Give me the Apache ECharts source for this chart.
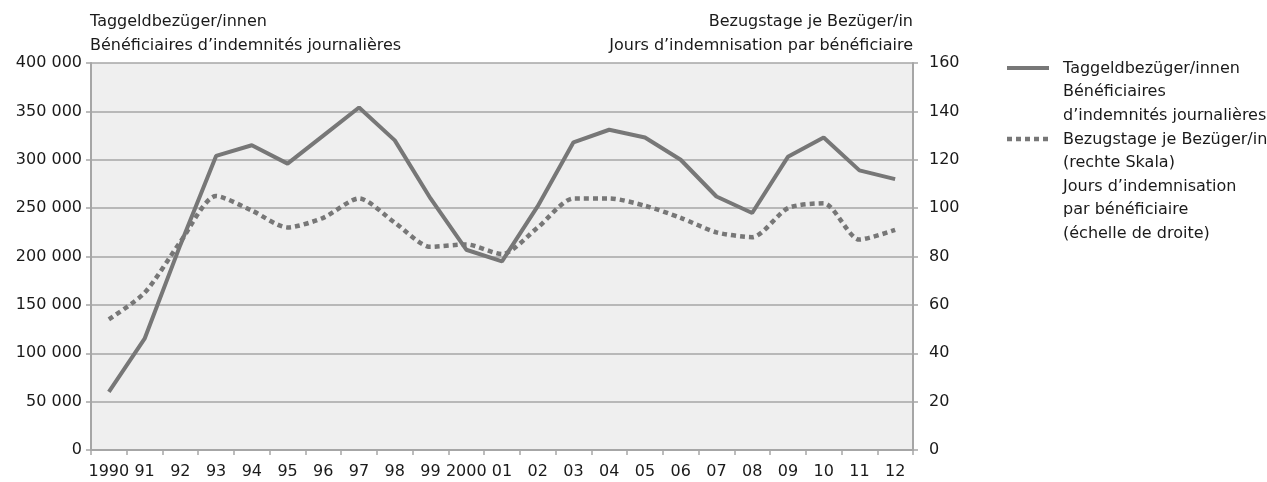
<!DOCTYPE html>
<html>
<head>
<meta charset="utf-8">
<script src="https://cdn.jsdelivr.net/npm/echarts@6/dist/echarts.min.js"></script>
<style>
  html, body { margin: 0; padding: 0; background: #fff; }
  #main { width: 1267px; height: 482px; }
</style>
</head>
<body>
<div id="main"></div>
<script>
// 数据
var years = ['1990', '91', '92', '93', '94', '95', '96', '97', '98', '99', '2000', '01', '02', '03', '04', '05', '06', '07', '08', '09', '10', '11', '12'];
var beneficiaries = [60000, 115000, 212000, 304000, 315000, 296000, 325000, 354000, 320000, 260000, 207000, 195000, 252000, 318000, 331000, 323000, 300000, 262000, 245000, 303000, 323000, 289000, 280000];
var daysPer = [54, 65, 86, 105, 99, 92, 96, 104, 94, 84, 85, 81, 92, 104, 104, 101, 96, 90, 88, 100, 102, 87, 91];

(function () {
  var myChart = echarts.init(document.getElementById('main'));
  var font = 'DejaVu Sans';
  var txt = '#1a1a1a';
  var lineColor = '#777777';
  var gridColor = '#a6a6a6';

  // 千位空格
  function fmt(v) {
    return String(v).replace(/\B(?=(\d{3})+(?!\d))/g, ' ');
  }

  var option = {
    animation: false,
    textStyle: { fontFamily: font },
    grid: {
      left: 91,
      right: 354,
      top: 63,
      bottom: 32,
      show: true,
      backgroundColor: '#efefef',
      borderWidth: 0
    },
    xAxis: {
      type: 'category',
      data: years,
      boundaryGap: true,
      axisLine: { lineStyle: { color: gridColor, width: 2 } },
      axisTick: { show: true, length: 5, lineStyle: { color: gridColor, width: 1.5 } },
      axisLabel: { color: txt, fontSize: 16, fontFamily: font, margin: 14, interval: 0 }
    },
    yAxis: [{
      type: 'value',
      min: 0,
      max: 400000,
      interval: 50000,
      axisLine: { show: true, lineStyle: { color: gridColor, width: 2 } },
      axisTick: { show: true, length: 5, lineStyle: { color: gridColor, width: 1.5 } },
      axisLabel: { color: txt, fontSize: 16, fontFamily: font, margin: 9, formatter: fmt },
      splitLine: { lineStyle: { color: gridColor, width: 1.5 } }
    }, {
      type: 'value',
      min: 0,
      max: 160,
      interval: 20,
      position: 'right',
      axisLine: { show: true, lineStyle: { color: gridColor, width: 2 } },
      axisTick: { show: true, length: 5, lineStyle: { color: gridColor, width: 1.5 } },
      axisLabel: { color: txt, fontSize: 16, fontFamily: font, margin: 16 },
      splitLine: { show: false }
    }],
    graphic: [
      // 轴标题
      { type: 'text', x: 90, y: 10, style: { text: 'Taggeldbezüger/innen\nBénéficiaires d’indemnités journalières', font: '16px ' + font, fill: txt, lineHeight: 24 } },
      { type: 'text', x: 913, y: 10, style: { text: 'Bezugstage je Bezüger/in\nJours d’indemnisation par bénéficiaire', font: '16px ' + font, fill: txt, lineHeight: 24, align: 'right' } },
      // 图例
      { type: 'line', shape: { x1: 1007, y1: 68, x2: 1049, y2: 68 }, style: { stroke: lineColor, lineWidth: 4 } },
      { type: 'line', shape: { x1: 1007, y1: 139, x2: 1049, y2: 139 }, style: { stroke: lineColor, lineWidth: 4.5, lineDash: [5, 4] } },
      { type: 'text', x: 1063, y: 57, style: { text: 'Taggeldbezüger/innen\nBénéficiaires\nd’indemnités journalières', font: '16px ' + font, fill: txt, lineHeight: 23.5 } },
      { type: 'text', x: 1063, y: 128, style: { text: 'Bezugstage je Bezüger/in\n(rechte Skala)\nJours d’indemnisation\npar bénéficiaire\n(échelle de droite)', font: '16px ' + font, fill: txt, lineHeight: 23.5 } }
    ],
    series: [{
      name: 'Taggeldbezüger/innen',
      type: 'line',
      yAxisIndex: 0,
      data: beneficiaries,
      showSymbol: false,
      lineStyle: { color: lineColor, width: 4 }
    }, {
      name: 'Bezugstage je Bezüger/in',
      type: 'line',
      yAxisIndex: 1,
      data: daysPer,
      showSymbol: false,
      smooth: 0.25,
      lineStyle: { color: lineColor, width: 4.5, type: [5, 4] }
    }]
  };
  myChart.setOption(option);
})();
</script>
</body>
</html>
